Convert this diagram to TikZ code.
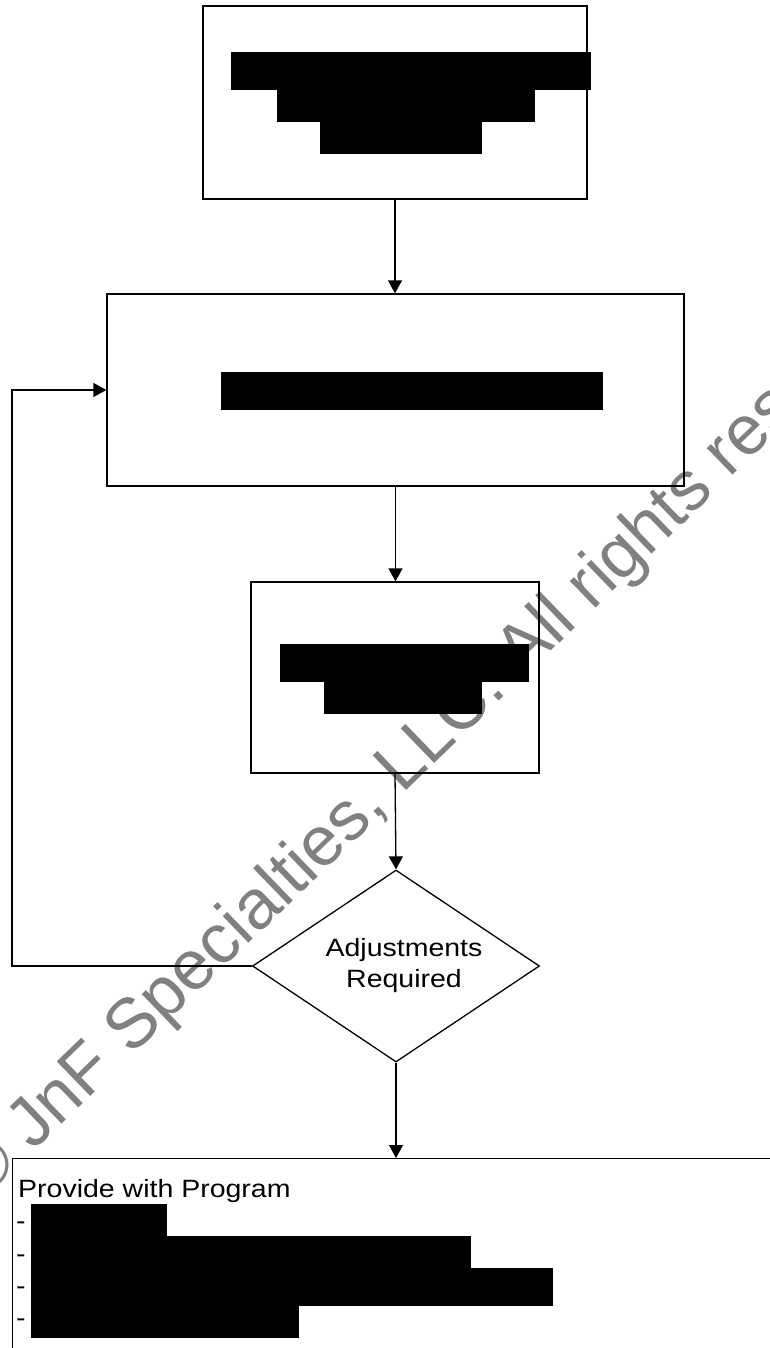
\documentclass[tikz,border=0pt]{standalone}
\usepackage{fontspec}
\setmainfont[FakeStretch=1.14]{Liberation Sans}
\newfontfamily\markfont{Liberation Sans}
\usetikzlibrary{arrows.meta,shapes.geometric,positioning}
\begin{document}
\begin{tikzpicture}[x=1pt,y=-1pt,
	box/.style={draw, line width=1.3pt, rectangle, inner sep=0pt},
	bar/.style={fill=black, inner sep=0pt, anchor=north west},
	flow/.style={line width=1.3pt, -{Triangle[length=13pt,width=14pt]}},
	txt/.style={inner sep=0pt, font=\fontsize{25}{31}\selectfont}]
	\useasboundingbox (0,0) rectangle (770,1348);
	\clip (0,0) rectangle (770,1348);
	\node[anchor=base west, rotate=44, inner sep=0pt, text=black!50, font=\markfont\fontsize{70}{84}\selectfont] (mark) at (-18,1201) {© JnF Specialties, LLC. All rights reserved.};
	\node[box, minimum width=384pt, minimum height=193pt] (intake) at (395,102.5) {};
	\node[bar, minimum width=360pt, minimum height=38pt] (i1) at (231,52) {};
	\node[bar, minimum width=258pt, minimum height=32pt] (i2) at (277,90) {};
	\node[bar, minimum width=162pt, minimum height=32pt] (i3) at (320,122) {};
	\node[box, minimum width=577pt, minimum height=192pt] (review) at (395.5,390) {};
	\node[bar, minimum width=382pt, minimum height=38pt] (r1) at (221,372) {};
	\node[box, minimum width=288pt, minimum height=191pt] (proof) at (395,677.5) {};
	\node[bar, minimum width=249pt, minimum height=38pt] (p1) at (280,644) {};
	\node[bar, minimum width=158pt, minimum height=32pt] (p2) at (324,682) {};
	\node[draw, line width=1.3pt, diamond, aspect=1.5, inner sep=0pt, minimum width=287pt, minimum height=192pt] (adjust) at (396,966) {};
	\node[txt, align=center] (adjtext) at (404,966) {Adjustments\\Required};
	\node[box, anchor=north west, minimum width=800pt, minimum height=250pt] (deliver) at (12,1158) {};
	\node[txt, anchor=base west] (head) at (18,1197) {Provide with Program};
	\foreach \i/\y in {1/1229,2/1262,3/1294,4/1326}
		\node[txt, anchor=base west] (dash\i) at (16,\y) {-};
	\foreach \i/\y/\w/\h in {1/1204/136/32,2/1236/440/32,3/1268/522/38,4/1306/268/32}
		\node[bar, minimum width=\w pt, minimum height=\h pt] (d\i) at (31,\y) {};
	\coordinate (back) at (12,966);
	\draw[flow] (intake.south) -- (intake.south |- review.north);
	\draw[flow] (review.south) -- (review.south |- proof.north);
	\draw[flow] (proof.south) -- (adjust.north);
	\draw[flow] (adjust.south) -- (adjust.south |- deliver.north);
	\draw[flow] (adjust.west) -- (back) |- (review.west);
\end{tikzpicture}
\end{document}
